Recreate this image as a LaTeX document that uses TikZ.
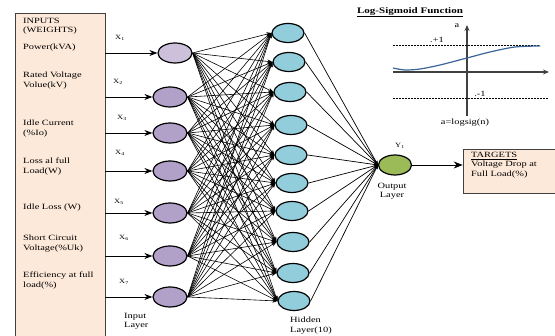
\documentclass[tikz,border=0pt]{standalone}
\usepackage{fontspec}
\setmainfont[FakeStretch=1.3]{Liberation Serif}
\usetikzlibrary{arrows.meta, shapes.geometric, calc}
\tikzset{>={Stealth[scale=1]}}
\definecolor{peach}{HTML}{FDE9D9}
\definecolor{lavlight}{HTML}{CCC0DA}
\definecolor{lav}{HTML}{B1A0C7}
\definecolor{skyish}{HTML}{92CDDC}
\definecolor{olivegreen}{HTML}{9BBB59}
\definecolor{curveblue}{HTML}{3A6496}
\definecolor{axisgray}{HTML}{404040}
\tikzset{
  neuron/.style={ellipse, draw, line width=1.2pt, minimum width=34pt, minimum height=20pt, inner sep=0pt},
  hid/.style={neuron, fill=skyish, minimum width=32pt, minimum height=19pt},
  txt/.style={font=\fontsize{8}{9.5}\selectfont, align=left, inner sep=0pt},
  small/.style={font=\fontsize{6.5}{7}\selectfont, inner sep=0pt},
  panel/.style={draw=axisgray, fill=peach, line width=0.6pt, inner sep=0pt}
}

\begin{document}
\begin{tikzpicture}[x=1pt, y=-1pt]
    \useasboundingbox (0,0) rectangle (555,336);

    \node[panel, minimum width=90pt, minimum height=330pt] (inbox) at (60,178) {};
    \node[panel, minimum width=100pt, minimum height=44pt] (tgt) at (513,171) {};

    \node[txt, anchor=north west] (t0) at (23,18) {INPUTS\\(WEIGHTS)};
    \node[txt, anchor=north west] (t1) at (23,44) {Power(kVA)};
    \node[txt, anchor=north west] (t2) at (23,72) {Rated Voltage\\Volue(kV)};
    \node[txt, anchor=north west] (t3) at (23,120) {Idle Current\\(\%Io)};
    \node[txt, anchor=north west] (t4) at (23,158) {Loss al full\\Load(W)};
    \node[txt, anchor=north west] (t5) at (23,204) {Idle Loss (W)};
    \node[txt, anchor=north west] (t6) at (23,235) {Short Circuit\\Voltage(\%Uk)};
    \node[txt, anchor=north west] (t7) at (23,272) {Efficiency at full\\load(\%)};

    \node[neuron, fill=lavlight] (in1) at (175,53) {};
    \foreach \i/\y in {2/97, 3/133, 4/171, 5/213, 6/256, 7/297}
        \node[neuron, fill=lav] (in\i) at (170,\y) {};

    \foreach \i/\x/\y in {1/120/38, 2/118/82, 3/122/118, 4/120/153, 5/119/202, 6/124/238, 7/124/282}
        \node[small] (xl\i) at (\x,\y) {X\textsubscript{\i}};

    \foreach \i in {1,...,7}
        \draw[line width=0.8pt, -{Stealth[length=8pt, width=6pt]}] (inbox.east |- in\i) -- (in\i.west);

    \foreach \j/\x/\y in {1/288/33, 2/289/62, 3/290/92, 4/291/125, 5/291/155,
                          6/292/183, 7/292/211, 8/293/242, 9/293/273, 10/294/301}
        \node[hid] (h\j) at (\x,\y) {};

    \node[neuron, fill=olivegreen, minimum width=33pt] (out) at (395,165) {};

    \foreach \i in {1,...,7}
        \foreach \j in {1,...,10}
            \draw[line width=0.6pt, -{Stealth[length=5pt, width=4pt]}] (in\i.east) -- (h\j.west);

    \foreach \j in {1,...,10}
        \draw[line width=0.7pt, -{Stealth[length=4pt, width=3.5pt]}] (h\j.east) -- (out.west);

    \draw[line width=0.9pt, -{Stealth[length=9pt, width=7pt]}] (out.east) -- (out.east -| tgt.west);

    \node[txt, anchor=north west] (tt) at (471,152) {\underline{TARGETS}\\Voltage Drop at\\Full Load(\%)};

    \node[txt, anchor=north west] (il) at (124,313) {Input\\Layer};
    \node[txt, anchor=north west] (hl) at (290,317) {Hidden\\Layer(10)};
    \node[txt, align=center] (ol) at (392,191) {Output\\Layer};
    \node[small] (yl) at (400,146) {Y\textsubscript{1}};

    \node[txt, font=\fontsize{8.5}{9}\selectfont\bfseries] (title) at (410,12) {\underline{Log-Sigmoid Function}};

    \coordinate (ax0) at (393,72);
    \coordinate (ax1) at (549,72);
    \coordinate (ay0) at (467,116);
    \coordinate (ay1) at (467,25);
    \draw[axisgray, line width=1.2pt, -{Stealth[length=6pt, width=5pt]}] (ax0) -- (ax1);
    \draw[axisgray, line width=1.2pt, -{Stealth[length=6pt, width=5pt]}] (ay0) -- (ay1);
    \draw[dash pattern=on 2pt off 1pt, line width=0.5pt] (393,45) -- (540,45);
    \draw[dash pattern=on 2pt off 1pt, line width=0.5pt] (393,98) -- (548,98);
    \draw[curveblue, line width=1.2pt] plot[smooth] coordinates {(393,68) (405,70) (420,69) (440,65) (467,58) (490,52) (515,47) (540,46)};

    \node[txt] (al) at (457,26) {a};
    \node[txt] (p1) at (437,40) {.+1};
    \node[txt] (m1) at (480,94) {.-1};
    \node[txt] (fn) at (465,123) {a=logsig(n)};
\end{tikzpicture}
\end{document}
